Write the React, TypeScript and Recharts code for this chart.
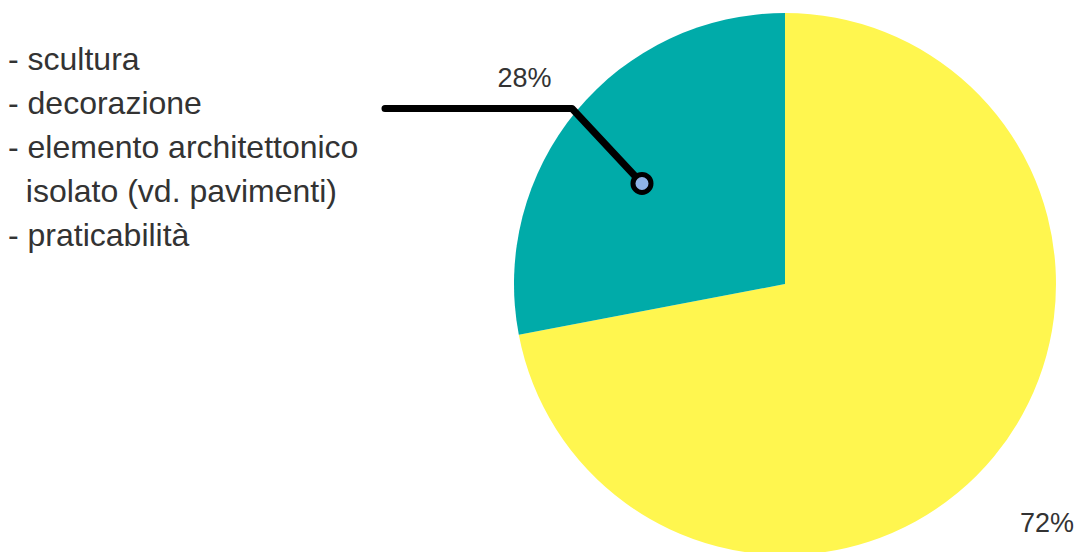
import { PieChart, Pie, Cell } from 'recharts';

const CATEGORIES = ['altro', 'scultura / decorazione / elemento architettonico / praticabilità'];
const VALUES = [72, 28];
const COLORS = ['#fff64f', '#00aba9'];
const NOTE_LINES = [
  '- scultura',
  '- decorazione',
  '- elemento architettonico',
  '  isolato (vd. pavimenti)',
  '- praticabilità',
];

const data = CATEGORIES.map((name, i) => ({ name, value: VALUES[i] }));

const RAD = Math.PI / 180;
const polar = (cx: number, cy: number, r: number, deg: number) => ({
  x: cx + r * Math.cos(-deg * RAD),
  y: cy + r * Math.sin(-deg * RAD),
});

function renderLabel(props: any) {
  const { cx, cy, midAngle, outerRadius, value, index } = props;
  const big = index === 0;
  const p = big
    ? polar(cx, cy, outerRadius + 104, midAngle)
    : polar(cx, cy, outerRadius + 61, midAngle + 1.3);
  const text = (
    <text
      x={p.x}
      y={p.y}
      textAnchor={big ? 'end' : 'middle'}
      dominantBaseline="central"
      fill="#333"
      fontSize={27}
      fontFamily="'Liberation Sans', Arial, sans-serif"
    >
      {`${value}%`}
    </text>
  );
  if (big) return <g key={index}>{text}</g>;
  // pointer from the note into the smaller slice
  const dot = polar(cx, cy, outerRadius * 0.645, midAngle + 4.5);
  const elbow = { x: dot.x - 70, y: dot.y - 75 };
  const end = { x: elbow.x - 187, y: elbow.y };
  return (
    <g key={index}>
      {text}
      <polyline
        points={`${end.x},${end.y} ${elbow.x},${elbow.y} ${dot.x},${dot.y}`}
        fill="none"
        stroke="#000"
        strokeWidth={7}
        strokeLinecap="round"
        strokeLinejoin="round"
      />
      <circle cx={dot.x} cy={dot.y} r={9} fill="#8fb3e6" stroke="#000" strokeWidth={5} />
    </g>
  );
}

export default function App() {
  return (
    <div style={{ position: 'absolute', left: 0, top: 0, width: 1076, height: 552, background: '#fff', overflow: 'hidden' }}>
      <div
        style={{
          position: 'absolute',
          left: 8,
          top: 37,
          fontFamily: "'Liberation Sans', Arial, sans-serif",
          fontSize: 32,
          lineHeight: '44px',
          color: '#333',
          whiteSpace: 'pre',
        }}
      >
        {NOTE_LINES.map((l, i) => (
          <div key={i}>{l}</div>
        ))}
      </div>
      <PieChart
        width={1076}
        height={552}
        margin={{ top: 0, right: 0, bottom: 0, left: 0 }}
        style={{ position: 'absolute', left: 0, top: 0 }}
      >
        <Pie
          data={data}
          dataKey="value"
          cx={785}
          cy={284}
          outerRadius={271}
          startAngle={90}
          endAngle={-270}
          stroke="none"
          label={renderLabel}
          labelLine={false}
          isAnimationActive={false}
        >
          {data.map((_, i) => (
            <Cell key={i} fill={COLORS[i]} />
          ))}
        </Pie>
      </PieChart>
    </div>
  );
}
